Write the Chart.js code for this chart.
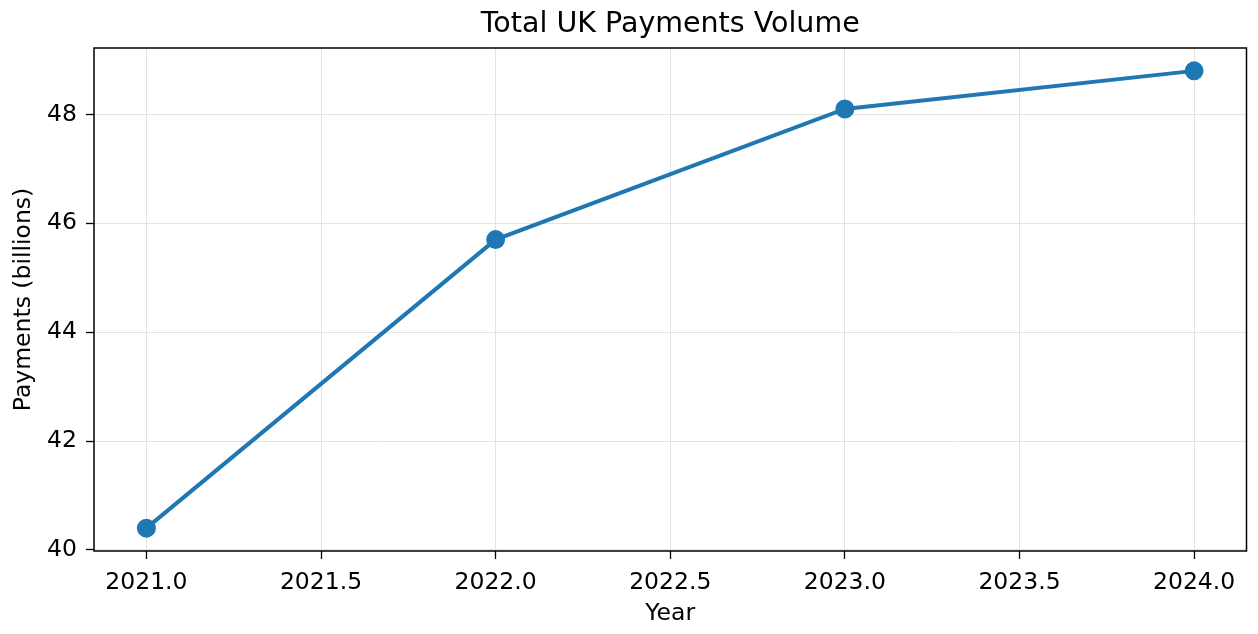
<!DOCTYPE html>
<html>
<head>
<meta charset="utf-8">
<script src="https://cdn.jsdelivr.net/npm/chart.js@4/dist/chart.umd.min.js"></script>
<style>
	html, body { margin: 0; padding: 0; background: #fff; }
	#wrap { width: 1258px; height: 634px; }
</style>
</head>
<body>
<div id="wrap"><canvas id="payments"></canvas></div>
<script>
// Total payments per year, in billions
const years = [ 2021, 2022, 2023, 2024 ];
const payments = [ 40.4, 45.7, 48.1, 48.8 ];

const xTicks = [ 2021.0, 2021.5, 2022.0, 2022.5, 2023.0, 2023.5, 2024.0 ];
const yTicks = [ 40, 42, 44, 46, 48 ];

const FONT = "'DejaVu Sans', sans-serif";

// Closed frame around the plot area
const frame = {
	id: 'frame',
	afterDatasetsDraw( chart ) {
		const { ctx, chartArea: a } = chart;
		ctx.save();
		ctx.strokeStyle = '#000';
		ctx.lineWidth = 1.5;
		ctx.strokeRect( a.left, a.top, a.right - a.left, a.bottom - a.top );
		ctx.restore();
	}
};

const ctx = document.getElementById( 'payments' ).getContext( '2d' );
new Chart( ctx, {
	type: 'line',
	data: {
		datasets: [
			{
				label: 'Payments',
				data: years.map( ( y, i ) => ( { x: y, y: payments[ i ] } ) ),
				borderColor: '#1f77b4',
				backgroundColor: '#1f77b4',
				borderWidth: 4,
				pointRadius: 7.5,
				pointHoverRadius: 7.5,
				tension: 0
			}
		]
	},
	options: {
		responsive: true,
		maintainAspectRatio: false,
		animation: false,
		layout: { padding: { left: 0, right: 8, top: 0, bottom: 0 } },
		plugins: {
			legend: { display: false },
			tooltip: { enabled: false },
			title: {
				display: true,
				fullSize: false,
				text: 'Total UK Payments Volume',
				color: '#000',
				font: { family: FONT, size: 28.5, weight: 'normal' },
				padding: { top: 7, bottom: 6.8 }
			}
		},
		scales: {
			x: {
				type: 'linear',
				min: 2020.85,
				max: 2024.15,
				afterBuildTicks( axis ) {
					axis.ticks = xTicks.map( v => ( { value: v } ) );
				},
				afterFit( axis ) {
					axis.height = 83;
					axis.paddingLeft = 0;
					axis.paddingRight = 0;
				},
				border: { display: false },
				grid: {
					color: '#e3e3e3',
					lineWidth: 1,
					drawTicks: true,
					tickLength: 8,
					tickColor: '#000',
					tickWidth: 1.3
				},
				ticks: {
					color: '#000',
					padding: 10,
					maxRotation: 0,
					font: { family: FONT, size: 23.5 },
					callback: v => Number( v ).toFixed( 1 )
				},
				title: {
					display: true,
					text: 'Year',
					color: '#000',
					font: { family: FONT, size: 23.5 },
					padding: { top: 0, bottom: 6 }
				}
			},
			y: {
				min: 39.98,
				max: 49.22,
				afterBuildTicks( axis ) {
					axis.ticks = yTicks.map( v => ( { value: v } ) );
				},
				afterFit( axis ) {
					axis.width = 94;
					axis.paddingTop = 0;
					axis.paddingBottom = 0;
				},
				border: { display: false },
				grid: {
					color: '#e3e3e3',
					lineWidth: 1,
					drawTicks: true,
					tickLength: 8,
					tickColor: '#000',
					tickWidth: 1.3
				},
				ticks: {
					color: '#000',
					padding: 9,
					font: { family: FONT, size: 23.5 },
					callback: v => String( v )
				},
				title: {
					display: true,
					text: 'Payments (billions)',
					color: '#000',
					font: { family: FONT, size: 23.5 },
					padding: { top: 10, bottom: 0 }
				}
			}
		}
	},
	plugins: [ frame ]
} );
</script>
</body>
</html>
